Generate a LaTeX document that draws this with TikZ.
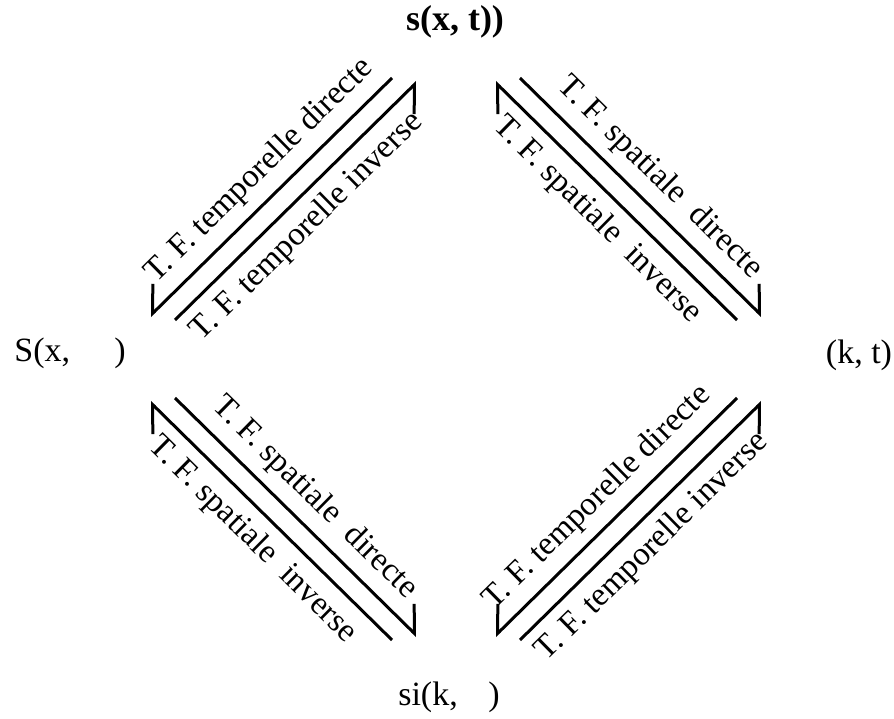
\documentclass[tikz,border=0pt]{standalone}
\usepackage{fontspec}
\setmainfont{Liberation Serif}
\usetikzlibrary{arrows.meta}
\tikzset{
  tf/top/.style={font=\fontsize{18}{22}\selectfont\bfseries, inner sep=0pt},
  tf/corner/.style={font=\fontsize{17}{20}\selectfont, inner sep=0pt},
  tf/label/.style={font=\fontsize{16.5}{19}\selectfont, sloped, inner sep=5pt},
  tf/line/.style={line width=1.5pt, line cap=butt},
  tf/harpoonl/.style={tf/line, -{Straight Barb[left,length=10.5pt,width=21pt,line cap=butt,line join=miter]}},
  tf/harpoonr/.style={tf/line, -{Straight Barb[right,length=10.5pt,width=21pt,line cap=butt,line join=miter]}}
}
\begin{document}
\begin{tikzpicture}[x=0.5pt,y=0.5pt]
  \useasboundingbox (0,0) rectangle (894,718);
  % the four functions
  \node[tf/top] (sxt) at (455,696) {s(x, t))};
  \node[tf/corner] (Sxw) at (70,365) {S(x,\hspace{1.3em})};
  \node[tf/corner] (skt) at (859,363) {(k, t)};
  \node[tf/corner] (sikw) at (449,21) {si(k,\hspace{0.9em})};
  % ends of the arrows
  \coordinate (tld1) at (392,640); \coordinate (tld2) at (150,402);
  \coordinate (tli1) at (175,398); \coordinate (tli2) at (417,636);
  \coordinate (trd1) at (520,640); \coordinate (trd2) at (762,402);
  \coordinate (tri1) at (737,398); \coordinate (tri2) at (495,636);
  \coordinate (bli1) at (392,78);  \coordinate (bli2) at (150,316);
  \coordinate (bld1) at (175,320); \coordinate (bld2) at (417,82);
  \coordinate (brd1) at (737,320); \coordinate (brd2) at (495,82);
  \coordinate (bri1) at (520,78);  \coordinate (bri2) at (762,316);
  % top left
  \draw[tf/harpoonr] (tld1) -- node[tf/label,above,pos=0.47] {T. F. temporelle directe} (tld2);
  \draw[tf/harpoonr] (tli1) -- node[tf/label,below,pos=0.47] {T. F. temporelle inverse} (tli2);
  % top right
  \draw[tf/harpoonl] (trd1) -- node[tf/label,above] {T. F. spatiale\ \ directe} (trd2);
  \draw[tf/harpoonl] (tri1) -- node[tf/label,below] {T. F. spatiale\ \ inverse} (tri2);
  % bottom left
  \draw[tf/harpoonl] (bli1) -- node[tf/label,below] {T. F. spatiale\ \ inverse} (bli2);
  \draw[tf/harpoonl] (bld1) -- node[tf/label,above] {T. F. spatiale\ \ directe} (bld2);
  % bottom right
  \draw[tf/harpoonr] (brd1) -- node[tf/label,above] {T. F. temporelle directe} (brd2);
  \draw[tf/harpoonr] (bri1) -- node[tf/label,below,pos=0.47] {T. F. temporelle inverse} (bri2);
\end{tikzpicture}
\end{document}
